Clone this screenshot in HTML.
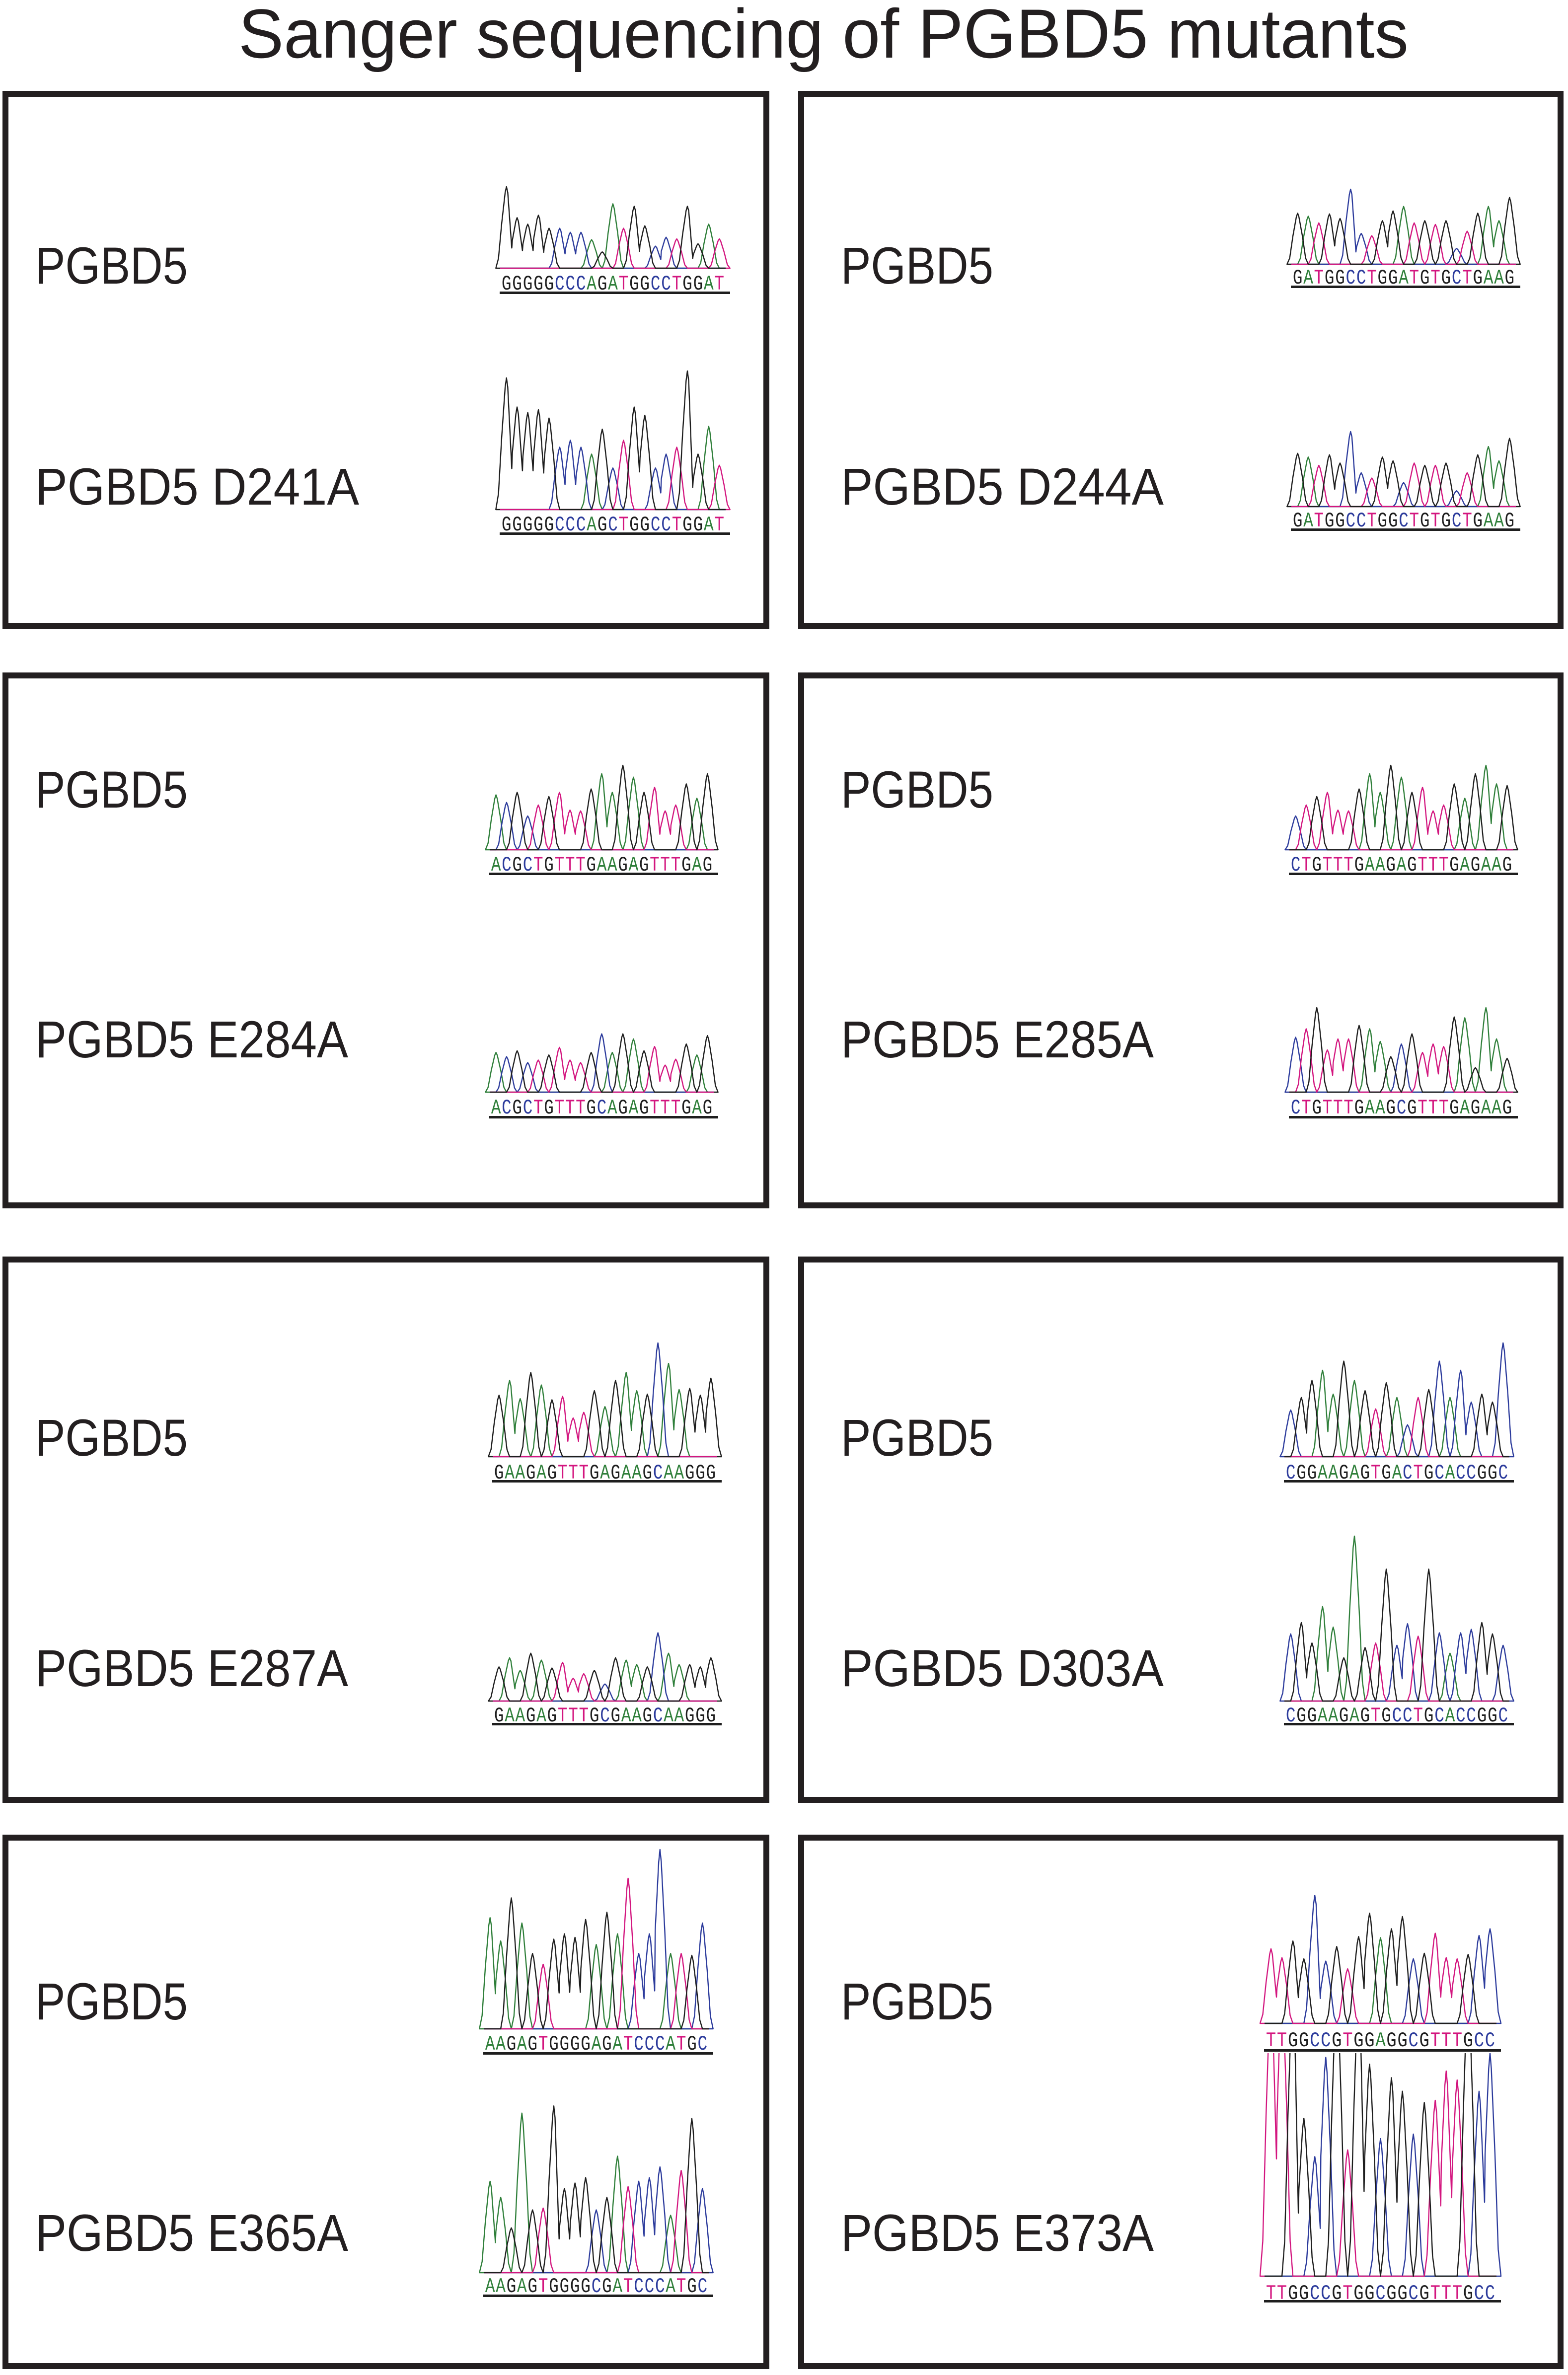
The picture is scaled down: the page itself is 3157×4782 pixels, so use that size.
<!DOCTYPE html>
<html><head><meta charset="utf-8"><style>
html,body{margin:0;padding:0;background:#fff}
svg{display:block}
</style></head><body>
<svg id="fig" xmlns="http://www.w3.org/2000/svg" width="3157" height="4782" viewBox="0 0 3157 4782">
<rect x="0" y="0" width="3157" height="4782" fill="#fff"/>
<text x="480" y="116" font-family="Liberation Sans, sans-serif" font-size="140" fill="#231f20" textLength="2356" lengthAdjust="spacingAndGlyphs">Sanger sequencing of PGBD5 mutants</text>
<g id="boxes" fill="none" stroke="#231f20" stroke-width="12">
<rect x="11" y="189" width="1532" height="1071"/>
<rect x="1613" y="189" width="1529" height="1071"/>
<rect x="11" y="1360" width="1532" height="1067"/>
<rect x="1613" y="1360" width="1529" height="1067"/>
<rect x="11" y="2536" width="1532" height="1088"/>
<rect x="1613" y="2536" width="1529" height="1088"/>
<rect x="11" y="3700" width="1532" height="1064"/>
<rect x="1613" y="3700" width="1529" height="1064"/>
</g>
<g id="labels" font-family="Liberation Sans, sans-serif" font-size="105" fill="#231f20">
<text x="71" y="571" textLength="307" lengthAdjust="spacingAndGlyphs">PGBD5</text>
<text x="71" y="1016" textLength="652" lengthAdjust="spacingAndGlyphs">PGBD5 D241A</text>
<text x="1693" y="571" textLength="307" lengthAdjust="spacingAndGlyphs">PGBD5</text>
<text x="1693" y="1016" textLength="650" lengthAdjust="spacingAndGlyphs">PGBD5 D244A</text>
<text x="71" y="1626" textLength="307" lengthAdjust="spacingAndGlyphs">PGBD5</text>
<text x="71" y="2129" textLength="630" lengthAdjust="spacingAndGlyphs">PGBD5 E284A</text>
<text x="1693" y="1626" textLength="307" lengthAdjust="spacingAndGlyphs">PGBD5</text>
<text x="1693" y="2129" textLength="630" lengthAdjust="spacingAndGlyphs">PGBD5 E285A</text>
<text x="71" y="2931" textLength="307" lengthAdjust="spacingAndGlyphs">PGBD5</text>
<text x="71" y="3395" textLength="630" lengthAdjust="spacingAndGlyphs">PGBD5 E287A</text>
<text x="1693" y="2931" textLength="307" lengthAdjust="spacingAndGlyphs">PGBD5</text>
<text x="1693" y="3395" textLength="650" lengthAdjust="spacingAndGlyphs">PGBD5 D303A</text>
<text x="71" y="4066" textLength="307" lengthAdjust="spacingAndGlyphs">PGBD5</text>
<text x="71" y="4532" textLength="630" lengthAdjust="spacingAndGlyphs">PGBD5 E365A</text>
<text x="1693" y="4066" textLength="307" lengthAdjust="spacingAndGlyphs">PGBD5</text>
<text x="1693" y="4532" textLength="630" lengthAdjust="spacingAndGlyphs">PGBD5 E373A</text>
</g>
<g id="traces"></g>
</svg>
<script>
// ---- data: base calls ----
const seqD241wt = "GGGGGCCCAGATGGCCTGGAT";
const seqD241mut = "GGGGGCCCAGCTGGCCTGGAT";
const seqD244wt = "GATGGCCTGGATGTGCTGAAG";
const seqD244mut = "GATGGCCTGGCTGTGCTGAAG";
const seqE284wt = "ACGCTGTTTGAAGAGTTTGAG";
const seqE284mut = "ACGCTGTTTGCAGAGTTTGAG";
const seqE285wt = "CTGTTTGAAGAGTTTGAGAAG";
const seqE285mut = "CTGTTTGAAGCGTTTGAGAAG";
const seqE287wt = "GAAGAGTTTGAGAAGCAAGGG";
const seqE287mut = "GAAGAGTTTGCGAAGCAAGGG";
const seqD303wt = "CGGAAGAGTGACTGCACCGGC";
const seqD303mut = "CGGAAGAGTGCCTGCACCGGC";
const seqE365wt = "AAGAGTGGGGAGATCCCATGC";
const seqE365mut = "AAGAGTGGGGCGATCCCATGC";
const seqE373wt = "TTGGCCGTGGAGGCGTTTGCC";
const seqE373mut = "TTGGCCGTGGCGGCGTTTGCC";
// ---- data: relative peak heights ----
const hD241wt = [1.0,.62,.54,.65,.49,.49,.44,.44,.35,.20,.79,.49,.76,.52,.27,.38,.36,.76,.30,.54,.36];
const hD241mut = [.95,.74,.70,.72,.66,.45,.50,.45,.40,.58,.30,.50,.74,.68,.30,.40,.45,1.0,.40,.60,.32];
const hD244wt = [.68,.64,.55,.67,.61,1.0,.41,.38,.58,.71,.77,.55,.58,.53,.58,.21,.44,.68,.77,.58,.89];
const hD244mut = [.71,.66,.55,.69,.58,1.0,.45,.38,.66,.61,.32,.58,.55,.55,.58,.21,.45,.69,.80,.61,.91];
const hE284wt = [.65,.56,.68,.40,.53,.63,.68,.47,.46,.72,.90,.68,1.0,.86,.68,.74,.46,.53,.78,.61,.90];
const hE284mut = [.47,.42,.49,.35,.38,.44,.53,.38,.35,.47,.69,.47,.69,.63,.49,.54,.32,.39,.57,.44,.67];
const hE285wt = [.40,.53,.63,.68,.47,.46,.72,.90,.68,1.0,.86,.68,.74,.46,.53,.78,.61,.90,1.0,.78,.76];
const hE285mut = [.65,.75,1.0,.50,.63,.63,.79,.75,.60,.42,.57,.69,.47,.57,.54,.89,.88,.29,1.0,.63,.40];
const hE287wt = [.54,.67,.51,.74,.63,.50,.53,.34,.39,.58,.44,.67,.74,.58,.55,1.0,.82,.59,.60,.54,.69];
const hE287mut = [.30,.38,.27,.42,.36,.29,.34,.20,.24,.27,.15,.38,.36,.32,.30,.60,.42,.32,.32,.30,.38];
const hD303wt = [.41,.52,.67,.76,.55,.84,.67,.58,.42,.65,.52,.28,.52,.59,.84,.52,.76,.48,.55,.48,1.0];
const hD303mut = [.59,.69,.51,.83,.65,.38,1.45,.47,.51,1.16,.49,.68,.57,1.16,.60,.42,.60,.63,.69,.59,.49];
const hE365wt = [.62,.49,.73,.59,.42,.36,.50,.53,.51,.61,.47,.65,.53,.84,.42,.53,1.0,.42,.42,.41,.59];
const hE365mut = [.51,.42,.25,.89,.35,.36,.93,.47,.50,.53,.35,.42,.65,.48,.51,.53,.59,.32,.57,.86,.47];
const hE373wt = [.67,.59,.74,.58,1.15,.56,.69,.49,.78,.99,.77,.85,.96,.58,.63,.81,.59,.58,.62,.79,.85];
const hE373mut = [1.3,1.3,1.3,.70,.53,.97,1.3,.56,1.3,.94,.61,.88,.82,.63,.77,.78,.91,.87,1.3,.82,.99];

const traces = [
 {name:"d241a-wt", seq:seqD241wt, h:hD241wt, x0:1009,x1:1459,base:540,maxH:164,let:583,ul:589},
 {name:"d241a-mut",seq:seqD241mut,h:hD241mut,x0:1009,x1:1459,base:1026,maxH:279,let:1068,ul:1074},
 {name:"d244a-wt", seq:seqD244wt, h:hD244wt, x0:2602,x1:3050,base:532,maxH:151,let:571,ul:577},
 {name:"d244a-mut",seq:seqD244mut,h:hD244mut,x0:2602,x1:3050,base:1020,maxH:151,let:1060,ul:1066},
 {name:"e284a-wt", seq:seqE284wt, h:hE284wt, x0:988,x1:1435,base:1711,maxH:170,let:1753,ul:1759},
 {name:"e284a-mut",seq:seqE284mut,h:hE284mut,x0:988,x1:1435,base:2199,maxH:170,let:2242,ul:2249},
 {name:"e285a-wt", seq:seqE285wt, h:hE285wt, x0:2598,x1:3045,base:1711,maxH:170,let:1753,ul:1759},
 {name:"e285a-mut",seq:seqE285mut,h:hE285mut,x0:2598,x1:3045,base:2199,maxH:170,let:2242,ul:2249},
 {name:"e287a-wt", seq:seqE287wt, h:hE287wt, x0:994,x1:1442,base:2933,maxH:229,let:2977,ul:2982},
 {name:"e287a-mut",seq:seqE287mut,h:hE287mut,x0:994,x1:1442,base:3425,maxH:229,let:3466,ul:3471},
 {name:"d303a-wt", seq:seqD303wt, h:hD303wt, x0:2588,x1:3037,base:2933,maxH:229,let:2977,ul:2982},
 {name:"d303a-mut",seq:seqD303mut,h:hD303mut,x0:2588,x1:3037,base:3425,maxH:229,let:3466,ul:3471},
 {name:"e365a-wt", seq:seqE365wt, h:hE365wt, x0:976,x1:1425,base:4085,maxH:361,let:4127,ul:4134},
 {name:"e365a-mut",seq:seqE365mut,h:hE365mut,x0:976,x1:1425,base:4576,maxH:361,let:4615,ul:4622},
 {name:"e373a-wt", seq:seqE373wt, h:hE373wt, x0:2548,x1:3011,base:4074,maxH:224,let:4120,ul:4128},
 {name:"e373a-mut",seq:seqE373mut,h:hE373mut,x0:2548,x1:3011,base:4583,maxH:454,let:4629,ul:4633,clip:4134}
];
const colors = {G:"#1e1e1e", C:"#2c3b9c", A:"#2f7f3a", T:"#d3167f"};
const NS = "http://www.w3.org/2000/svg";
const root = document.getElementById("traces");
const defs = document.createElementNS(NS,"defs");
root.appendChild(defs);

traces.forEach((t, ti) => {
  const n = t.seq.length;
  const s = (t.x1 - t.x0) / n;
  const xAt = i => t.x0 + (i + 0.5) * s;
  const yAt = v => t.base - v * t.maxH;
  const g = document.createElementNS(NS,"g");
  
  
  root.appendChild(g);
  const pg = document.createElementNS(NS,"g");
  if (t.clip) {
    const cp = document.createElementNS(NS,"clipPath");
    cp.setAttribute("id","clip"+ti);
    const r = document.createElementNS(NS,"rect");
    r.setAttribute("x", t.x0 - 20); r.setAttribute("y", t.clip);
    r.setAttribute("width", t.x1 - t.x0 + 40); r.setAttribute("height", t.base - t.clip + 10);
    cp.appendChild(r); defs.appendChild(cp);
    pg.setAttribute("clip-path","url(#clip"+ti+")");
  }
  g.appendChild(pg);
  ["A","C","T","G"].forEach(c => {
    const pts = [[t.x0 - 2, t.base]];
    for (let i = 0; i < n; i++) {
      if (t.seq[i] !== c) continue;
      const x = xAt(i), h = t.h[i];
      const prevSame = i > 0 && t.seq[i-1] === c;
      const nextSame = i < n-1 && t.seq[i+1] === c;
      if (!prevSame) {
        pts.push([x - 1.0*s, t.base]);
        pts.push([x - 0.75*s, yAt(h*0.12)]);
      }
      pts.push([x - 0.45*s, yAt(h*0.55)]);
      pts.push([x - 0.12*s, yAt(h*0.93)]);
      pts.push([x, yAt(h)]);
      pts.push([x + 0.12*s, yAt(h*0.93)]);
      if (nextSame) {
        pts.push([x + 0.5*s, yAt(Math.min(h, t.h[i+1])*0.4)]);
      } else {
        pts.push([x + 0.45*s, yAt(h*0.55)]);
        pts.push([x + 0.75*s, yAt(h*0.12)]);
        pts.push([x + 1.0*s, t.base]);
      }
    }
    pts.push([t.x1 + 2, t.base]);
    const p = document.createElementNS(NS,"polyline");
    
    
    p.setAttribute("points", pts.map(q => q[0].toFixed(1)+","+q[1].toFixed(1)).join(" "));
    p.setAttribute("fill","none");
    p.setAttribute("stroke", colors[c]);
    p.setAttribute("stroke-width","2.4");
    p.setAttribute("stroke-linejoin","round");
    pg.appendChild(p);
  });
  for (let i = 0; i < n; i++) {
    const tx = document.createElementNS(NS,"text");
    
    
    tx.setAttribute("x", (xAt(i) - s*0.46).toFixed(1));
    tx.setAttribute("y", t.let);
    tx.setAttribute("font-family","Liberation Mono, monospace");
    tx.setAttribute("font-size","42");
    tx.setAttribute("textLength", (s*0.92).toFixed(1));
    tx.setAttribute("lengthAdjust","spacingAndGlyphs");
    tx.setAttribute("fill", colors[t.seq[i]]);
    tx.textContent = t.seq[i];
    g.appendChild(tx);
  }
  const ul = document.createElementNS(NS,"rect");
  
  
  ul.setAttribute("x", t.x0 - 3);
  ul.setAttribute("y", t.ul - 2);
  ul.setAttribute("width", t.x1 - t.x0 + 14);
  ul.setAttribute("height", 5);
  ul.setAttribute("fill","#1e1e1e");
  g.appendChild(ul);
});
</script>
</body></html>
